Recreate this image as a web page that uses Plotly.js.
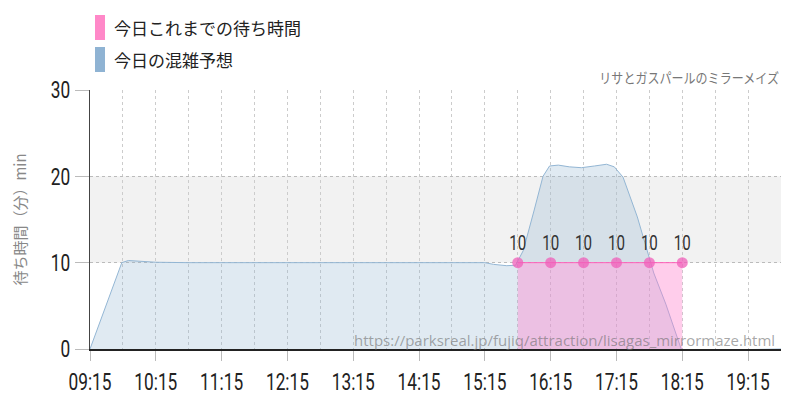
<!DOCTYPE html>
<html>
<head>
<meta charset="utf-8">
<script src="https://cdn.plot.ly/plotly-3.0.1.min.js"></script>
<style>html,body{margin:0;padding:0;background:#fff;}#chart{width:800px;height:400px;}</style>
</head>
<body>
<div id="chart"></div>
<script>
const day = '2024-01-01 ';
const forecastTimes = ['09:15','09:44','09:50','10:00','10:15','10:45','11:15','11:45','12:15','12:45','13:15','13:45','14:15','14:45','15:15','15:23','15:35','15:43','15:50','16:00','16:08','16:14','16:22','16:32','16:43','16:55','17:06','17:13','17:21','17:34','17:43','17:49','18:00','18:14','18:20','18:40','19:00','19:45'];
const forecastValues = [0,10.0,10.25,10.2,10.05,10.0,10.0,10.0,10.0,10.0,10.0,10.0,10.0,10.0,10.0,9.8,9.65,9.7,11.4,16.1,20.0,21.2,21.3,21.1,21.0,21.2,21.4,21.1,19.9,15.3,11.4,8.8,5.2,0,-0.3,-0.2,-0.1,0];
const waitTimes = ['15:45','16:15','16:45','17:15','17:45','18:15'];
const waitValues = [10,10,10,10,10,10];
const tickLabels = ['09:15','10:15','11:15','12:15','13:15','14:15','15:15','16:15','17:15','18:15','19:15'];
const legendLabels = ['今日これまでの待ち時間','今日の混雑予想'];
const chartTitle = 'リサとガスパールのミラーメイズ';
const sourceUrl = 'https://parksreal.jp/fujiq/attraction/lisagas_mirrormaze.html';
const yTitle = '待ち時間（分）min';

const numFont = 'Roboto, "Noto Sans", sans-serif';
const jpFont = '"Noto Sans CJK JP", "Noto Sans", sans-serif';
const narrow = 0.72;

const traces = [
  {
    x: forecastTimes.map(t => day + t),
    y: forecastValues,
    type: 'scatter', mode: 'lines',
    line: {color: '#93b6d4', width: 1},
    fill: 'tozeroy', fillcolor: 'rgba(143,179,208,0.28)',
    name: legendLabels[1], showlegend: false, hoverinfo: 'skip'
  },
  {
    x: waitTimes.map(t => day + t),
    y: waitValues,
    type: 'scatter', mode: 'lines+markers+text',
    line: {color: '#ff5fb8', width: 1},
    marker: {size: 11, color: 'rgba(240,95,185,0.75)'},
    fill: 'tozeroy', fillcolor: 'rgba(255,130,205,0.40)',
    text: waitValues.map(String), textposition: 'top center',
    textfont: {family: numFont, size: 21, color: '#333'},
    cliponaxis: false,
    name: legendLabels[0], showlegend: false, hoverinfo: 'skip'
  }
];

const xp = px => (px - 90) / 691;
const yp = py => (349 - py) / 259;

const layout = {
  width: 800, height: 400,
  margin: {l: 90, r: 19, t: 90, b: 51},
  paper_bgcolor: '#fff', plot_bgcolor: '#fff',
  showlegend: false,
  xaxis: {
    type: 'date',
    range: [day + '09:15', day + '19:45'],
    tickmode: 'array',
    tickvals: tickLabels.map(t => day + t),
    ticktext: tickLabels,
    ticks: 'outside', ticklen: 10, tickcolor: '#bbb',
    tickfont: {family: numFont, size: 24, color: '#222'},
    showline: true, linecolor: '#222', linewidth: 2,
    showgrid: true, gridcolor: '#ccc', griddash: '3px,3px', gridwidth: 1,
    minor: {dtick: 1800000, tick0: day + '09:15', showgrid: true, gridcolor: '#ccc', griddash: '3px,3px', gridwidth: 1},
    zeroline: false, fixedrange: true
  },
  yaxis: {
    range: [0, 30],
    tickvals: [0, 10, 20, 30],
    ticks: 'outside', ticklen: 14, tickcolor: '#bbb',
    tickfont: {family: numFont, size: 24, color: '#222'},
    showline: true, linecolor: '#444', linewidth: 1,
    showgrid: true, gridcolor: '#bbb', griddash: 'dot', gridwidth: 1,
    zeroline: false, fixedrange: true,
    title: {text: yTitle, font: {family: jpFont, size: 15, color: '#888'}, standoff: 12},
    automargin: false
  },
  shapes: [
    {type: 'rect', xref: 'paper', x0: 0, x1: 1, yref: 'y', y0: 10, y1: 20, fillcolor: '#f2f2f2', line: {width: 0}, layer: 'below'},
    {type: 'rect', xref: 'paper', yref: 'paper', x0: xp(95), x1: xp(105), y0: yp(40), y1: yp(15), fillcolor: '#ff88c8', line: {width: 0}},
    {type: 'rect', xref: 'paper', yref: 'paper', x0: xp(95), x1: xp(105), y0: yp(72), y1: yp(47), fillcolor: '#8fb3d3', line: {width: 0}}
  ],
  annotations: [
    {xref: 'paper', yref: 'paper', x: xp(112), y: yp(27.5), xanchor: 'left', yanchor: 'middle', showarrow: false,
     text: legendLabels[0], font: {family: jpFont, size: 17, color: '#222'}},
    {xref: 'paper', yref: 'paper', x: xp(112), y: yp(59.5), xanchor: 'left', yanchor: 'middle', showarrow: false,
     text: legendLabels[1], font: {family: jpFont, size: 17, color: '#222'}},
    {xref: 'paper', yref: 'paper', x: xp(781), y: yp(77), xanchor: 'right', yanchor: 'middle', showarrow: false,
     text: chartTitle, font: {family: jpFont, size: 14, color: '#777'}},
    {xref: 'paper', yref: 'paper', x: xp(777), y: yp(340), xanchor: 'right', yanchor: 'middle', showarrow: false,
     text: sourceUrl, font: {family: '"Open Sans", "Noto Sans", sans-serif', size: 15, color: 'rgba(110,110,110,0.6)'}}
  ]
};

function squeeze(el, s, px) {
  const t = el.getAttribute('transform') || '';
  el.setAttribute('transform', t + ' translate(' + px + ',0) scale(' + s + ',1) translate(' + (-px) + ',0)');
}

function condense(gd) {
  // narrow the numeric labels horizontally around their anchor point (like a condensed face)
  gd.querySelectorAll('.xtick text, .ytick text, .textpoint text').forEach(el => {
    squeeze(el, narrow, parseFloat(el.getAttribute('x') || '0'));
  });
  // narrow the chart title around its right edge
  gd.querySelectorAll('.annotation-text').forEach(el => {
    if (el.textContent === chartTitle) {
      const b = el.getBBox();
      squeeze(el, 0.86, b.x + b.width);
    }
  });
}

Plotly.newPlot('chart', traces, layout, {staticPlot: true, displayModeBar: false}).then(condense);
</script>
</body>
</html>
